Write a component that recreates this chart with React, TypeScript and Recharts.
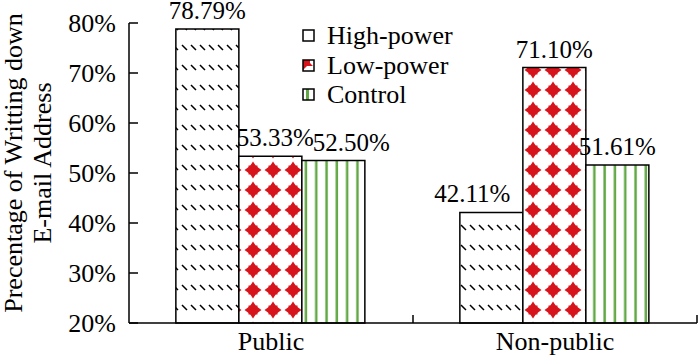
import { BarChart, Bar, XAxis, YAxis, LabelList } from "recharts";

const groups = ["Public", "Non-public"];
const highPower = [78.79, 42.11];
const lowPower = [53.33, 71.1];
const control = [52.5, 51.61];
const yTicks = [20, 30, 40, 50, 60, 70, 80];

const data = groups.map((group, i) => ({
  group,
  high: highPower[i],
  low: lowPower[i],
  control: control[i],
}));

const FONT = '"Times New Roman", "Liberation Serif", serif';
const FONT_SIZE = 26;
const LABEL_SIZE = 25;
const RED = "#d7141c";
const GREEN = "#62a845";

const YTick = (props: any) => {
  const { x, y, payload } = props;
  return (
    <g>
      <line x1={x} x2={x + 9} y1={y} y2={y} stroke="#000" strokeWidth={1.5} />
      <text
        x={x - 13}
        y={y}
        dy="0.35em"
        textAnchor="end"
        fontFamily={FONT}
        fontSize={FONT_SIZE}
        fill="#000"
      >
        {payload.value}%
      </text>
    </g>
  );
};

const XTick = (props: any) => {
  const { x, y, payload } = props;
  const half = payload.offset ?? 142;
  return (
    <g>
      <line x1={x + half} x2={x + half} y1={y} y2={y - 8} stroke="#000" strokeWidth={1.5} />
      <text x={x} y={y + 27} textAnchor="middle" fontFamily={FONT} fontSize={FONT_SIZE} fill="#000">
        {payload.value}
      </text>
    </g>
  );
};

const makeLabel = (shifts: number[]) => (props: any) => {
  const { x, y, width, value, index } = props;
  return (
    <text
      x={x + width / 2 + (shifts[index] || 0)}
      y={y - 10}
      textAnchor="middle"
      fontFamily={FONT}
      fontSize={LABEL_SIZE}
      fill="#000"
    >
      {Number(value).toFixed(2)}%
    </text>
  );
};

const legendItems = [
  { name: "High-power", key: "high" },
  { name: "Low-power", key: "low" },
  { name: "Control", key: "control" },
];

const LegendIcon = ({ kind }: { kind: string }) => (
  <svg width={13} height={13} style={{ marginRight: 12, flexShrink: 0 }}>
    <rect x={1} y={1} width={11} height={11} fill="#fff" />
    {kind === "low" && <polygon points="1,1 8,1 8,4 11,7 5,7 1,11" fill={RED} />}
    {kind === "control" && <rect x={4} y={1} width={3} height={11} fill={GREEN} />}
    <rect x={1} y={1} width={11} height={11} fill="none" stroke="#000" strokeWidth={1.5} />
  </svg>
);

export default function App() {
  return (
    <div style={{ position: "absolute", left: 0, top: 0, width: 700, height: 358, background: "#fff" }}>
      <BarChart
        width={700}
        height={358}
        data={data}
        margin={{ top: 23, right: 3, left: 0, bottom: 0 }}
        barCategoryGap="16.5%"
        barGap={0}
      >
        <defs>
          <pattern id="hatch" patternUnits="userSpaceOnUse" width={9} height={20}>
            <rect width={9} height={20} fill="#fff" />
            <line x1={2} y1={5} x2={7} y2={10} stroke="#000" strokeWidth={1.5} />
          </pattern>
          <pattern id="diamonds" patternUnits="userSpaceOnUse" width={20} height={20} x={3} y={0}>
            <rect width={20} height={20} fill="#fff" />
            <polygon points="10,1.5 13,6 18.5,10 13,14 10,18.5 7,14 1.5,10 7,6" fill={RED} />
            <rect x={5.5} y={5.5} width={9} height={9} fill={RED} />
          </pattern>
          <pattern id="stripes" patternUnits="userSpaceOnUse" width={10.3} height={10}>
            <rect width={10.3} height={10} fill="#fff" />
            <rect x={6} y={0} width={2.5} height={10} fill={GREEN} />
          </pattern>
        </defs>
        <XAxis
          dataKey="group"
          height={35}
          axisLine={{ stroke: "#000", strokeWidth: 1.5 }}
          tickLine={false}
          tickSize={0}
          tickMargin={0}
          tick={<XTick />}
          interval={0}
        />
        <YAxis
          width={129}
          domain={[20, 80]}
          ticks={yTicks}
          axisLine={{ stroke: "#000", strokeWidth: 1.5 }}
          tickLine={false}
          tickSize={0}
          tickMargin={0}
          tick={<YTick />}
          interval={0}
        />
        <Bar dataKey="high" name="High-power" fill="url(#hatch)" stroke="#000" strokeWidth={1.5} isAnimationActive={false}>
          <LabelList dataKey="high" content={makeLabel([0, -19])} />
        </Bar>
        <Bar dataKey="low" name="Low-power" fill="url(#diamonds)" stroke="#000" strokeWidth={1.5} isAnimationActive={false}>
          <LabelList dataKey="low" content={makeLabel([5, 0])} />
        </Bar>
        <Bar dataKey="control" name="Control" fill="url(#stripes)" stroke="#000" strokeWidth={1.5} isAnimationActive={false}>
          <LabelList dataKey="control" content={makeLabel([18, 0])} />
        </Bar>
        <text
          transform="translate(22,163) rotate(-90)"
          textAnchor="middle"
          fontFamily={FONT}
          fontSize={FONT_SIZE}
          fill="#000"
        >
          <tspan x={0} dy={0}>Precentage of Writting down</tspan>
          <tspan x={0} dy={29}>E-mail Address</tspan>
        </text>
      </BarChart>
      <div
        style={{
          position: "absolute",
          left: 302,
          top: 21,
          fontFamily: FONT,
          fontSize: 26,
          color: "#000",
        }}
      >
        {legendItems.map((item) => (
          <div
            key={item.key}
            style={{ display: "flex", alignItems: "center", height: 29.5, lineHeight: "29.5px" }}
          >
            <LegendIcon kind={item.key} />
            <span>{item.name}</span>
          </div>
        ))}
      </div>
    </div>
  );
}
